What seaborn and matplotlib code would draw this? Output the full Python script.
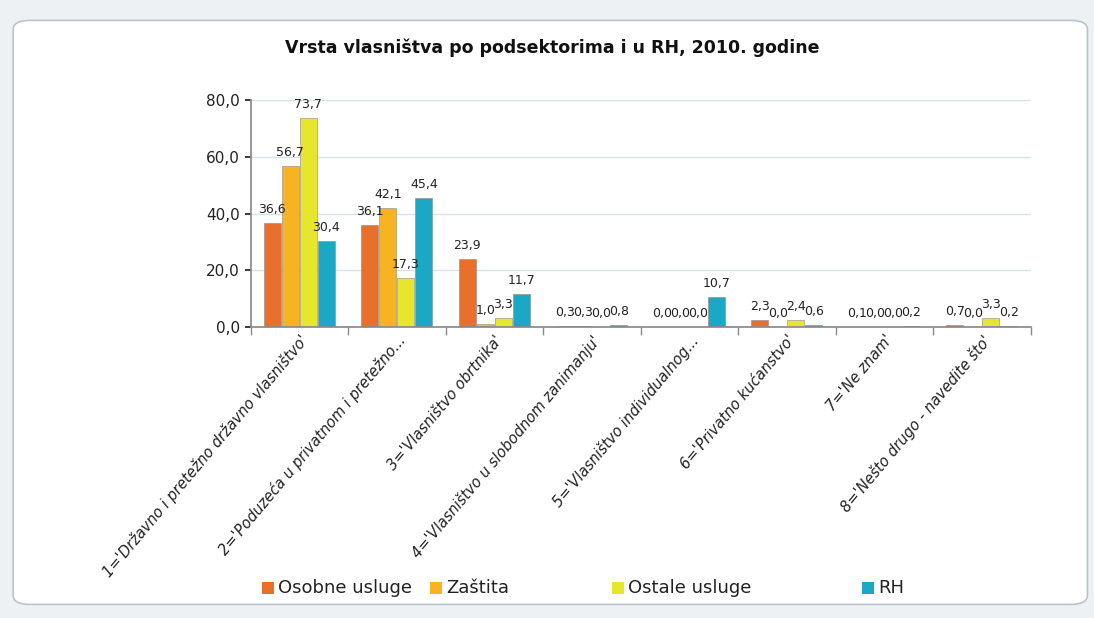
import matplotlib
matplotlib.use("Agg")
import matplotlib.pyplot as plt
import seaborn as sns
import pandas as pd
from matplotlib.patches import FancyBboxPatch, Rectangle
from matplotlib.ticker import FuncFormatter

categories = [
    "1='Državno i pretežno državno vlasništvo'",
    "2='Poduzeća u privatnom i pretežno...",
    "3='Vlasništvo obrtnika'",
    "4='Vlasništvo u slobodnom zanimanju'",
    "5='Vlasništvo individualnog...",
    "6='Privatno kućanstvo'",
    "7='Ne znam'",
    "8='Nešto drugo - navedite što'",
]
series = ["Osobne usluge", "Zaštita", "Ostale usluge", "RH"]
osobne_usluge = [36.6, 36.1, 23.9, 0.3, 0.0, 2.3, 0.1, 0.7]
zastita = [56.7, 42.1, 1.0, 0.3, 0.0, 0.0, 0.0, 0.0]
ostale_usluge = [73.7, 17.3, 3.3, 0.0, 0.0, 2.4, 0.0, 3.3]
rh = [30.4, 45.4, 11.7, 0.8, 10.7, 0.6, 0.2, 0.2]
colors = ["#E8702A", "#F8B323", "#E6E62C", "#1AA8C4"]

values = [osobne_usluge, zastita, ostale_usluge, rh]
rows = []
for s, vals in zip(series, values):
    for c, v in zip(categories, vals):
        rows.append({"cat": c, "series": s, "val": v})
df = pd.DataFrame(rows)

sns.set_theme(style="white")
plt.rcParams['font.family'] = ['DejaVu Sans']

fig = plt.figure(figsize=(10.94, 6.18), dpi=100)
fig.patch.set_facecolor("#eef1f4")
frame = FancyBboxPatch((0.012, 0.022), 0.982, 0.945,
                       boxstyle="round,pad=0,rounding_size=0.015",
                       transform=fig.transFigure, facecolor="white",
                       edgecolor="#b8c4cc", linewidth=1.2, zorder=-10)
fig.patches.append(frame)

ax = fig.add_axes([0.229, 0.471, 0.713, 0.367])
ax.set_zorder(5)
ax.set_facecolor("none")
sns.barplot(data=df, x="cat", y="val", hue="series", palette=colors,
            saturation=1, ax=ax, width=0.74, gap=0.05,
            edgecolor="#8a8a8a", linewidth=0.4, legend=False)

ax.set_ylim(0, 80)
ax.set_yticks([0, 20, 40, 60, 80])
ax.yaxis.set_major_formatter(FuncFormatter(lambda v, p: f"{v:.1f}".replace(".", ",")))
ax.grid(axis="y", color="#d6e3ea", linewidth=1.0)
ax.set_axisbelow(True)
for sp in ["top", "right"]:
    ax.spines[sp].set_visible(False)
ax.spines["left"].set_color("#8a8a8a")
ax.spines["bottom"].set_color("#8a8a8a")
ax.set_xlabel("")
ax.set_ylabel("")
ax.tick_params(axis="y", labelsize=11, colors="#222222", length=4, left=True)
ax.set_xlim(-0.5, len(categories) - 0.5)
ax.set_xticks(range(len(categories)))
ax.set_xticklabels(categories, rotation=50, ha="right", rotation_mode="anchor",
                   fontsize=10.5, style="italic", color="#222222")
ax.set_xticks([i + 0.5 for i in range(-1, len(categories))], minor=True)
ax.tick_params(axis="x", which="minor", length=6, color="#8a8a8a", bottom=True)
ax.tick_params(axis="x", which="major", length=0, pad=4)

for container in ax.containers:
    labels = [f"{b.get_height():.1f}".replace(".", ",") for b in container]
    ax.bar_label(container, labels=labels, padding=5, fontsize=9, color="#222222")

fig.text(0.505, 0.922, "Vrsta vlasništva po podsektorima i u RH, 2010. godine",
         ha="center", va="center", fontsize=12.5, fontweight="bold", color="#111111")

legend_x = [262, 430, 612, 862]
ly = 618 - 588
for x0, c, s in zip(legend_x, colors, series):
    fig.patches.append(Rectangle((x0 / 1094, (ly - 6) / 618), 12 / 1094, 12 / 618,
                                 transform=fig.transFigure, facecolor=c,
                                 edgecolor="none", zorder=2))
    fig.text((x0 + 16) / 1094, ly / 618, s, ha="left", va="center",
             fontsize=13, color="#222222")

fig.savefig("out.png", dpi=100, facecolor=fig.get_facecolor())
